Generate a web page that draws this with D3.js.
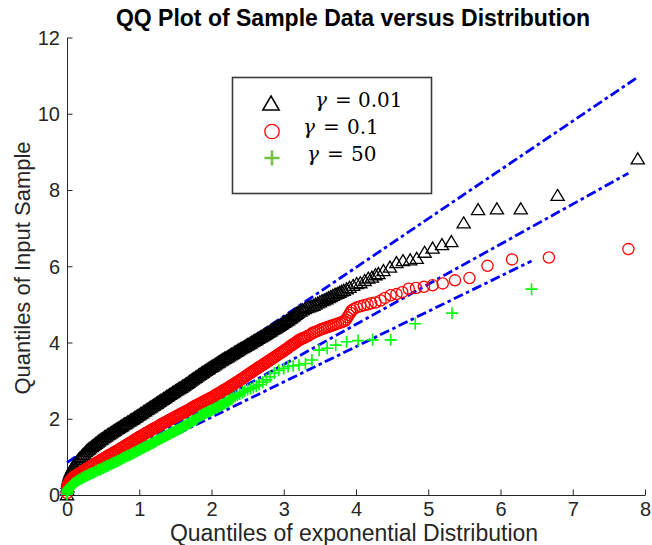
<!DOCTYPE html>
<html>
<head>
<meta charset="utf-8">
<script src="https://cdn.jsdelivr.net/npm/d3@7"></script>
<style>
  html, body { margin: 0; padding: 0; background: #ffffff; }
  svg { display: block; }
</style>
</head>
<body>
<svg id="chart" width="652" height="545"></svg>
<script>
// ---- axis ticks ----
const xTicks = [0, 1, 2, 3, 4, 5, 6, 7, 8];
const yTicks = [0, 2, 4, 6, 8, 10, 12];

// ---- theoretical exponential quantiles shared by the dense lower part of every sample ----
const qGrid = [0, 0.002, 0.005, 0.01, 0.015, 0.02, 0.03, 0.04, 0.05, 0.06, 0.07, 0.08, 0.09, 0.1,
  0.12, 0.14, 0.16, 0.18, 0.2, 0.22, 0.24, 0.26, 0.28, 0.3, 0.32, 0.34, 0.36, 0.38, 0.4,
  0.42, 0.44, 0.46, 0.48, 0.5, 0.52, 0.54, 0.56, 0.58, 0.6, 0.62, 0.64, 0.66, 0.68, 0.7,
  0.72, 0.74, 0.76, 0.78, 0.8, 0.82, 0.84, 0.86, 0.88, 0.9, 0.92, 0.94, 0.96, 0.98, 1,
  1.02, 1.04, 1.06, 1.08, 1.1, 1.12, 1.14, 1.16, 1.18, 1.2, 1.22, 1.24, 1.26, 1.28, 1.3,
  1.32, 1.34, 1.36, 1.38, 1.4, 1.42, 1.44, 1.46, 1.48, 1.5, 1.52, 1.54, 1.56, 1.58, 1.6,
  1.62, 1.64, 1.66, 1.68, 1.7, 1.72, 1.74, 1.76, 1.78, 1.8, 1.82, 1.84, 1.86, 1.88, 1.9,
  1.92, 1.94, 1.96, 1.98, 2, 2.02, 2.04, 2.06, 2.08, 2.1, 2.12, 2.14, 2.16, 2.18, 2.2,
  2.22, 2.24, 2.26, 2.28, 2.3];

// ---- gamma = 0.01 (black triangles) ----
const g001DenseY = [0.02, 0.14, 0.23, 0.32, 0.38, 0.43, 0.51, 0.57, 0.62, 0.66, 0.7, 0.74, 0.77, 0.8,
  0.85, 0.9, 0.95, 0.99, 1.03, 1.07, 1.11, 1.15, 1.19, 1.22, 1.25, 1.28, 1.31, 1.34, 1.37,
  1.4, 1.43, 1.46, 1.48, 1.51, 1.54, 1.56, 1.59, 1.61, 1.64, 1.66, 1.69, 1.71, 1.74, 1.76,
  1.78, 1.81, 1.83, 1.86, 1.88, 1.9, 1.93, 1.95, 1.98, 2.0, 2.02, 2.05, 2.07, 2.1, 2.12,
  2.15, 2.17, 2.2, 2.22, 2.25, 2.27, 2.3, 2.32, 2.35, 2.37, 2.4, 2.42, 2.45, 2.47, 2.5,
  2.52, 2.55, 2.57, 2.6, 2.62, 2.65, 2.67, 2.7, 2.72, 2.75, 2.77, 2.8, 2.82, 2.84, 2.87,
  2.89, 2.92, 2.94, 2.97, 3.0, 3.03, 3.05, 3.08, 3.1, 3.13, 3.16, 3.18, 3.21, 3.23, 3.26,
  3.28, 3.31, 3.33, 3.36, 3.38, 3.4, 3.43, 3.45, 3.48, 3.5, 3.53, 3.55, 3.58, 3.6, 3.62,
  3.64, 3.66, 3.69, 3.71, 3.73];
const g001TailX = [2.32, 2.34, 2.36, 2.38, 2.4, 2.42, 2.44, 2.46, 2.48, 2.5, 2.52, 2.54, 2.56, 2.58, 2.6,
  2.62, 2.64, 2.66, 2.68, 2.7, 2.72, 2.74, 2.76, 2.78, 2.8, 2.82, 2.84, 2.86, 2.88, 2.9,
  2.92, 2.94, 2.96, 2.98, 3.0, 3.02, 3.04, 3.06, 3.08, 3.1, 3.12, 3.14, 3.16, 3.18, 3.2,
  3.23, 3.26, 3.29, 3.32, 3.35, 3.38, 3.41, 3.44, 3.47, 3.5, 3.53, 3.56, 3.59, 3.62, 3.65,
  3.68, 3.71, 3.74, 3.77, 3.8, 3.83, 3.87, 3.91, 3.96, 4.01, 4.06, 4.12, 4.17, 4.22, 4.27,
  4.31, 4.38, 4.47, 4.56, 4.65, 4.75, 4.84, 4.95, 5.06, 5.19, 5.32, 5.49, 5.69, 5.95, 6.28,
  6.79, 7.9];
const g001TailY = [3.76, 3.78, 3.8, 3.83, 3.85, 3.87, 3.89, 3.91, 3.94, 3.96, 3.98, 4.0, 4.03, 4.05, 4.07,
  4.09, 4.12, 4.14, 4.16, 4.18, 4.21, 4.23, 4.25, 4.28, 4.3, 4.32, 4.35, 4.37, 4.39, 4.42,
  4.44, 4.46, 4.49, 4.51, 4.54, 4.56, 4.59, 4.61, 4.64, 4.66, 4.69, 4.72, 4.75, 4.78, 4.81,
  4.84, 4.87, 4.9, 4.93, 4.95, 4.97, 4.99, 5.02, 5.05, 5.08, 5.11, 5.13, 5.16, 5.19, 5.22,
  5.25, 5.28, 5.3, 5.33, 5.36, 5.38, 5.42, 5.46, 5.51, 5.56, 5.58, 5.64, 5.7, 5.73, 5.79,
  5.82, 5.9, 5.99, 6.11, 6.16, 6.18, 6.22, 6.38, 6.49, 6.58, 6.66, 7.15, 7.5, 7.52, 7.52,
  7.87, 8.83];

// ---- gamma = 0.1 (red circles) ----
const g01DenseY = [0.05, 0.12, 0.18, 0.23, 0.26, 0.29, 0.33, 0.36, 0.39, 0.41, 0.43, 0.45, 0.47, 0.48,
  0.5, 0.53, 0.55, 0.58, 0.6, 0.62, 0.65, 0.67, 0.7, 0.72, 0.74, 0.77, 0.79, 0.81, 0.83,
  0.86, 0.88, 0.9, 0.93, 0.95, 0.97, 0.99, 1.02, 1.04, 1.06, 1.08, 1.1, 1.13, 1.15, 1.17,
  1.19, 1.22, 1.24, 1.26, 1.29, 1.31, 1.33, 1.36, 1.38, 1.4, 1.43, 1.45, 1.47, 1.5, 1.52,
  1.54, 1.56, 1.59, 1.61, 1.63, 1.65, 1.67, 1.7, 1.72, 1.74, 1.76, 1.78, 1.8, 1.82, 1.85,
  1.87, 1.89, 1.91, 1.93, 1.95, 1.97, 1.99, 2.01, 2.03, 2.05, 2.07, 2.09, 2.11, 2.13, 2.15,
  2.17, 2.19, 2.21, 2.23, 2.25, 2.28, 2.3, 2.32, 2.34, 2.36, 2.38, 2.4, 2.42, 2.44, 2.46,
  2.48, 2.5, 2.52, 2.54, 2.56, 2.58, 2.6, 2.63, 2.65, 2.67, 2.69, 2.71, 2.74, 2.76, 2.78,
  2.8, 2.83, 2.85, 2.88, 2.9];
const g01TailX = [2.32, 2.34, 2.36, 2.38, 2.4, 2.42, 2.44, 2.46, 2.48, 2.5, 2.52, 2.54, 2.56, 2.58, 2.6,
  2.62, 2.64, 2.66, 2.68, 2.7, 2.72, 2.74, 2.76, 2.78, 2.8, 2.82, 2.84, 2.86, 2.88, 2.9,
  2.92, 2.94, 2.96, 2.98, 3.0, 3.02, 3.04, 3.06, 3.08, 3.1, 3.12, 3.14, 3.16, 3.18, 3.2,
  3.22, 3.24, 3.26, 3.28, 3.3, 3.33, 3.36, 3.39, 3.42, 3.45, 3.48, 3.51, 3.54, 3.57, 3.6,
  3.63, 3.66, 3.69, 3.72, 3.75, 3.78, 3.81, 3.84, 3.86, 3.88, 3.9, 3.92, 3.94, 3.97, 4.01,
  4.06, 4.11, 4.16, 4.21, 4.27, 4.34, 4.4, 4.48, 4.56, 4.64, 4.73, 4.83, 4.94, 5.06, 5.2,
  5.37, 5.57, 5.82, 6.16, 6.67, 7.77];
const g01TailY = [2.92, 2.95, 2.97, 3.0, 3.02, 3.05, 3.07, 3.1, 3.12, 3.15, 3.18, 3.2, 3.23, 3.25, 3.28,
  3.3, 3.33, 3.35, 3.38, 3.4, 3.43, 3.45, 3.48, 3.5, 3.53, 3.55, 3.58, 3.6, 3.63, 3.65,
  3.68, 3.7, 3.73, 3.75, 3.78, 3.81, 3.83, 3.86, 3.89, 3.92, 3.94, 3.97, 3.99, 4.02, 4.05,
  4.07, 4.09, 4.11, 4.12, 4.14, 4.17, 4.2, 4.24, 4.27, 4.29, 4.31, 4.34, 4.36, 4.38, 4.4,
  4.42, 4.44, 4.46, 4.48, 4.5, 4.52, 4.54, 4.56, 4.6, 4.66, 4.72, 4.78, 4.84, 4.88, 4.92,
  4.95, 4.98, 5.0, 5.03, 5.05, 5.1, 5.17, 5.24, 5.27, 5.32, 5.41, 5.43, 5.46, 5.5, 5.55,
  5.63, 5.69, 6.01, 6.18, 6.23, 6.45];

// ---- gamma = 50 (green plus signs) ----
const g50DenseY = [0.02, 0.06, 0.09, 0.12, 0.14, 0.16, 0.19, 0.21, 0.23, 0.25, 0.27, 0.28, 0.3, 0.31,
  0.34, 0.37, 0.39, 0.41, 0.43, 0.45, 0.47, 0.49, 0.51, 0.53, 0.55, 0.57, 0.58, 0.6, 0.62,
  0.64, 0.66, 0.67, 0.69, 0.71, 0.73, 0.75, 0.76, 0.78, 0.8, 0.82, 0.84, 0.85, 0.87, 0.89,
  0.91, 0.93, 0.95, 0.97, 0.99, 1.01, 1.03, 1.04, 1.06, 1.08, 1.1, 1.12, 1.14, 1.16, 1.18,
  1.2, 1.22, 1.24, 1.26, 1.28, 1.3, 1.32, 1.34, 1.36, 1.38, 1.4, 1.42, 1.44, 1.46, 1.48,
  1.5, 1.52, 1.54, 1.56, 1.58, 1.6, 1.62, 1.64, 1.66, 1.68, 1.7, 1.72, 1.74, 1.76, 1.78,
  1.81, 1.83, 1.85, 1.87, 1.89, 1.92, 1.94, 1.96, 1.98, 2.0, 2.05, 2.07, 2.09, 2.11, 2.13,
  2.15, 2.17, 2.19, 2.2, 2.22, 2.24, 2.26, 2.28, 2.3, 2.32, 2.34, 2.36, 2.38, 2.4, 2.42,
  2.45, 2.47, 2.5, 2.52, 2.55];
const g50TailX = [2.33, 2.36, 2.39, 2.43, 2.46, 2.5, 2.54, 2.58, 2.62, 2.66, 2.71, 2.76, 2.81, 2.87, 2.93,
  3.0, 3.06, 3.13, 3.21, 3.3, 3.39, 3.49, 3.6, 3.72, 3.87, 4.03, 4.23, 4.48, 4.82, 5.33, 6.43];
const g50TailY = [2.59, 2.62, 2.65, 2.69, 2.72, 2.76, 2.79, 2.82, 2.86, 2.9, 2.96, 3.02, 3.1, 3.2, 3.27,
  3.32, 3.37, 3.39, 3.41, 3.45, 3.54, 3.8, 3.85, 3.93, 4.02, 4.05, 4.07, 4.07, 4.49, 4.77, 5.4];

// ---- reference lines (start/end quantile, start/end sample value) ----
const refLineX = [[0, 7.9], [0, 7.77], [0, 6.43]];
const refLineY = [[0.85, 10.96], [0.27, 8.44], [0.19, 6.14]];

// ---- legend ----
const legendValues = ['0.01', '0.1', '50'];

// ---------------------------------------------------------------
const svg = d3.select('#chart');
const x = d3.scaleLinear().domain([0, 8]).range([67, 645]);
const y = d3.scaleLinear().domain([0, 12]).range([495, 37.5]);

const sans = '"Liberation Sans", Arial, Helvetica, sans-serif';
const axisColor = '#262626';

// title
svg.append('text')
  .attr('x', 353).attr('y', 26)
  .attr('text-anchor', 'middle')
  .attr('font-family', sans)
  .attr('font-weight', 'bold')
  .attr('font-size', 23)
  .attr('fill', '#000')
  .text('QQ Plot of Sample Data versus Distribution');

// axes (ticks point inward, no box)
const gx = svg.append('g')
  .attr('transform', `translate(0,${y(0)})`)
  .call(d3.axisBottom(x).tickValues(xTicks).tickFormat(d3.format('d'))
    .tickSizeInner(-5.5).tickSizeOuter(0).tickPadding(7));
const gy = svg.append('g')
  .attr('transform', `translate(${x(0)},0)`)
  .call(d3.axisLeft(y).tickValues(yTicks).tickFormat(d3.format('d'))
    .tickSizeInner(-5.5).tickSizeOuter(0).tickPadding(7));

[gx, gy].forEach(g => {
  g.selectAll('path.domain').attr('stroke', axisColor).attr('stroke-width', 1);
  g.selectAll('.tick line').attr('stroke', axisColor).attr('stroke-width', 1);
  g.selectAll('.tick text')
    .attr('fill', axisColor)
    .attr('font-family', sans)
    .attr('font-size', 20);
});
gx.selectAll('.tick text').attr('dy', '0.71em');
gy.selectAll('.tick text').attr('dy', '0.34em');

// axis labels
svg.append('text')
  .attr('x', 354).attr('y', 541)
  .attr('text-anchor', 'middle')
  .attr('font-family', sans)
  .attr('font-size', 23)
  .attr('fill', axisColor)
  .text('Quantiles of exponential Distribution');
svg.append('text')
  .attr('transform', 'translate(30,268) rotate(-90)')
  .attr('text-anchor', 'middle')
  .attr('font-family', sans)
  .attr('font-size', 22)
  .attr('fill', axisColor)
  .text('Quantiles of Input Sample');

// dash-dot reference lines, under the markers
const line = d3.line().x(d => x(d[0])).y(d => y(d[1]));
svg.append('g').selectAll('path')
  .data(refLineX.map((xs, i) => d3.zip(xs, refLineY[i])))
  .join('path')
  .attr('d', line)
  .attr('fill', 'none')
  .attr('stroke', '#0000ff')
  .attr('stroke-width', 2.8)
  .attr('stroke-dasharray', '10,3.5,3.5,3.5');

// marker shapes
const triPath = (w, h) => `M0,${-h / 2}L${w},${h / 2}L${-w},${h / 2}Z`;
const plusPath = a => `M${-a},0H${a}M0,${-a}V${a}`;

const series = [
  { xs: qGrid.concat(g001TailX), ys: g001DenseY.concat(g001TailY), kind: 'tri' },
  { xs: qGrid.concat(g01TailX), ys: g01DenseY.concat(g01TailY), kind: 'circle' },
  { xs: qGrid.concat(g50TailX), ys: g50DenseY.concat(g50TailY), kind: 'plus' }
];

series.forEach(s => {
  const pts = d3.zip(s.xs, s.ys);
  const g = svg.append('g');
  if (s.kind === 'tri') {
    g.selectAll('path').data(pts).join('path')
      .attr('transform', d => `translate(${x(d[0])},${y(d[1])})`)
      .attr('d', triPath(6.6, 11))
      .attr('fill', 'none').attr('stroke', '#000').attr('stroke-width', 1.3);
  } else if (s.kind === 'circle') {
    g.selectAll('circle').data(pts).join('circle')
      .attr('cx', d => x(d[0])).attr('cy', d => y(d[1])).attr('r', 5.6)
      .attr('fill', 'none').attr('stroke', '#ff0000').attr('stroke-width', 1.3);
  } else {
    g.selectAll('path').data(pts).join('path')
      .attr('transform', d => `translate(${x(d[0])},${y(d[1])})`)
      .attr('d', plusPath(6))
      .attr('fill', 'none').attr('stroke', '#00ff00').attr('stroke-width', 1.6);
  }
});

// legend
const lg = svg.append('g');
lg.append('rect')
  .attr('x', 232.5).attr('y', 77.5).attr('width', 199).attr('height', 116)
  .attr('fill', '#fff').attr('stroke', '#3a3a3a').attr('stroke-width', 1.6);

lg.append('path').attr('transform', 'translate(271,103)')
  .attr('d', triPath(8.2, 14))
  .attr('fill', 'none').attr('stroke', '#000').attr('stroke-width', 1.5);
lg.append('circle').attr('cx', 272).attr('cy', 131.5).attr('r', 7.2)
  .attr('fill', 'none').attr('stroke', '#ff0000').attr('stroke-width', 1.3);
lg.append('path').attr('transform', 'translate(272,158)')
  .attr('d', plusPath(7.5))
  .attr('fill', 'none').attr('stroke', '#74c043').attr('stroke-width', 2.6);

const serif = '"DejaVu Serif", "Liberation Serif", serif';
const rowPos = [
  { gx: 315, ex: 335, vx: 358, by: 107 },
  { gx: 303, ex: 323, vx: 347, by: 134 },
  { gx: 307, ex: 327, vx: 351, by: 161 }
];
legendValues.forEach((v, i) => {
  const p = rowPos[i];
  const t = lg.append('text')
    .attr('y', p.by)
    .attr('font-family', serif)
    .attr('font-size', 20)
    .attr('fill', '#000');
  t.append('tspan').attr('x', p.gx).attr('font-style', 'italic').text('γ');
  t.append('tspan').attr('x', p.ex).text('=');
  t.append('tspan').attr('x', p.vx).text(v);
});
</script>
</body>
</html>
